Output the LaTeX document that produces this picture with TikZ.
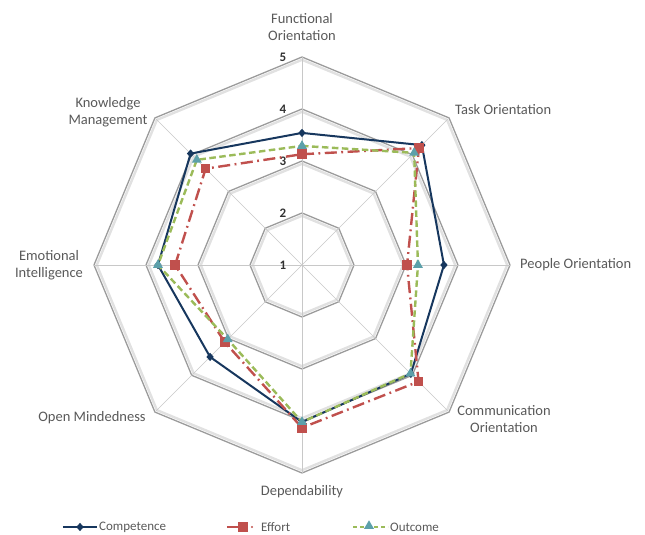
\documentclass[tikz,border=0pt]{standalone}
\usepackage{fontspec}
\setmainfont{Carlito}
\usetikzlibrary{shapes.geometric}
\definecolor{navy}{RGB}{23,55,94}
\definecolor{effred}{RGB}{192,80,77}
\definecolor{outgreen}{RGB}{155,187,89}
\definecolor{outteal}{RGB}{92,160,170}
\definecolor{ringgray}{RGB}{155,155,155}
\definecolor{ringshade}{RGB}{225,225,225}
\definecolor{spokegray}{RGB}{200,200,200}
\definecolor{labgray}{RGB}{89,89,89}
\definecolor{numgray}{RGB}{50,50,50}
\begin{document}
\begin{tikzpicture}[x=1pt,y=1pt,
  ringline/.style={draw=ringgray,line width=1.3pt,line join=miter},
  ringshadow/.style={draw=ringshade,line width=2.4pt,line join=miter},
  spoke/.style={draw=spokegray,line width=0.7pt},
  axlabel/.style={font=\fontsize{14.5}{17}\selectfont,text=labgray,align=center,inner sep=0pt},
  numlabel/.style={font=\bfseries\fontsize{13}{15}\selectfont,text=numgray,inner sep=0pt},
  leglabel/.style={font=\fontsize{13}{15}\selectfont,text=labgray,anchor=west,inner sep=0pt},
  compline/.style={draw=navy,line width=2pt,line join=round},
  effline/.style={draw=effred,line width=2.4pt,dash pattern=on 12pt off 4.5pt on 1.8pt off 4.5pt,line join=round},
  outline/.style={draw=outgreen,line width=2.4pt,dash pattern=on 6.5pt off 3.5pt,line join=round},
  compmark/.style={diamond,fill=navy,inner sep=0pt,minimum width=7.5pt,minimum height=8.5pt},
  effmark/.style={rectangle,fill=effred,inner sep=0pt,minimum size=9.5pt},
  outmark/.style={regular polygon,regular polygon sides=3,fill=outteal,inner sep=0pt,minimum size=11.5pt}]
\useasboundingbox (-302,-270) rectangle (343,265);
% grid rings
\foreach \k in {2,...,5}{
  \pgfmathsetmacro{\r}{(\k-1)*52}
  \pgfmathsetmacro{\rs}{(\k-1)*52-2.8}
  \draw[ringshadow] (90:\rs) \foreach \a in {45,0,-45,-90,-135,180,135}{ -- (\a:\rs)} -- cycle;
  \draw[ringline] (90:\r) \foreach \a in {45,0,-45,-90,-135,180,135}{ -- (\a:\r)} -- cycle;
}
\coordinate (ctr) at (0,0);
\foreach \a [count=\i] in {90,45,0,-45,-90,-135,180,135}{
  \coordinate (tip\i) at (\a:208);
  \draw[spoke] (ctr) -- (tip\i);
}
% scale numbers
\foreach \k in {1,...,5}{
  \node[numlabel] (num\k) at (-19,{(\k-1)*52}) {\k};
}
% axis labels
\node[axlabel] (lab1) at (0,238) {Functional\\Orientation};
\node[axlabel,anchor=west] (lab2) at (153,155) {Task Orientation};
\node[axlabel,anchor=west] (lab3) at (218,0) {People Orientation};
\node[axlabel] (lab4) at (202,-154) {Communication\\Orientation};
\node[axlabel] (lab5) at (0,-227) {Dependability};
\node[axlabel] (lab6) at (-210,-153) {Open Mindedness};
\node[axlabel] (lab7) at (-253,0) {Emotional\\Intelligence};
\node[axlabel] (lab8) at (-194,153) {Knowledge\\Management};
% data points
\foreach \v [count=\i] in {3.54,4.26,3.73,3.96,4.02,3.50,3.77,4.03}{
  \coordinate (c\i) at ({90-45*(\i-1)}:{(\v-1)*52});}
\foreach \v [count=\i] in {3.13,4.18,3.02,4.17,4.13,3.10,3.44,3.62}{
  \coordinate (e\i) at ({90-45*(\i-1)}:{(\v-1)*52});}
\foreach \v [count=\i] in {3.29,4.05,3.23,3.95,4.02,3.02,3.77,3.86}{
  \coordinate (o\i) at ({90-45*(\i-1)}:{(\v-1)*52});}
% series lines
\draw[compline] (c1) -- (c2) -- (c3) -- (c4) -- (c5) -- (c6) -- (c7) -- (c8) -- cycle;
\draw[effline] (e1) -- (e2) -- (e3) -- (e4) -- (e5) -- (e6) -- (e7) -- (e8) -- cycle;
\draw[outline] (o1) -- (o2) -- (o3) -- (o4) -- (o5) -- (o6) -- (o7) -- (o8) -- cycle;
% markers
\foreach \i in {1,...,8}{
  \node[compmark] (cm\i) at (c\i) {};
  \node[effmark] (em\i) at (e\i) {};
  \node[outmark] (om\i) at (o\i) {};
}
% legend
\coordinate (lc1) at (-239,-262);
\coordinate (lc2) at (-205,-262);
\draw[compline] (lc1) -- (lc2);
\node[compmark] (lcm) at (-222,-262) {};
\node[leglabel] (lct) at (-203,-262) {Competence};
\coordinate (le1) at (-75,-262);
\coordinate (le2) at (-59,-262);
\draw[draw=effred,line width=2.4pt] (le1) -- (le2);
\node[effmark] (lem) at (le2) {};
\node[circle,fill=effred,inner sep=0pt,minimum size=2.4pt] (led) at (-50,-262) {};
\node[leglabel] (let) at (-41,-262) {Effort};
\coordinate (lo1) at (51,-262);
\coordinate (lo2) at (86,-262);
\draw[outline,dash pattern=on 4pt off 3pt] (lo1) -- (lo2);
\node[outmark] (lom) at (67,-261) {};
\node[leglabel] (lot) at (88,-262) {Outcome};
\end{tikzpicture}
\end{document}
